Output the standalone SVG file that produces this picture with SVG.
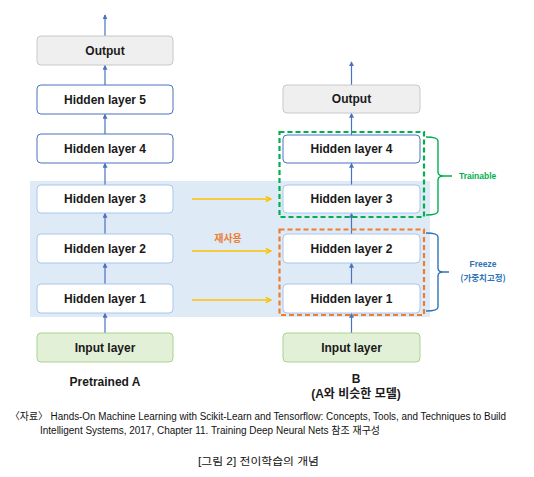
<svg xmlns="http://www.w3.org/2000/svg" width="534" height="477" viewBox="0 0 534 477">
<defs>
<style>
.lbl{font-family:"Liberation Sans","Noto Sans CJK KR",sans-serif;font-weight:bold;font-size:12px;fill:#1a1a1a;text-anchor:middle;dominant-baseline:central}
.hd{fill:#ffffff;stroke:#4a72c0;stroke-width:1}
.hl{fill:#ffffff;stroke:#a8c6ea;stroke-width:1}
.out{fill:#efefef;stroke:#c8c8c8;stroke-width:1}
.inp{fill:#e3f0d8;stroke:#a9d38c;stroke-width:1}
.ar{stroke:#4a72c0;stroke-width:1.2;fill:none;marker-end:url(#ah)}
.ya{stroke:#ffc000;stroke-width:1.6;fill:none;marker-end:url(#yh)}
.cap{font-family:"Liberation Sans","Noto Sans CJK KR",sans-serif;font-size:10px;fill:#111}
.kr{font-family:"Noto Sans CJK KR","Liberation Sans",sans-serif;font-weight:bold}
</style>
<marker id="ah" viewBox="0 0 6 6" refX="5" refY="3" markerWidth="5" markerHeight="5" markerUnits="userSpaceOnUse" orient="auto"><path d="M0,0 L6,3 L0,6 Z" fill="#4a72c0"/></marker>
<marker id="yh" viewBox="0 0 8 8" refX="7" refY="4" markerWidth="7" markerHeight="7" markerUnits="userSpaceOnUse" orient="auto"><path d="M1,1 L7,4 L1,7" fill="none" stroke="#ffc000" stroke-width="1.6"/></marker>
</defs>
<rect width="534" height="477" fill="#ffffff"/>
<rect x="30" y="181" width="400" height="136" fill="#deeaf6"/>

<g id="connectors">
<line class="ar" x1="105" y1="333" x2="105" y2="313.5"/>
<line class="ar" x1="105" y1="284" x2="105" y2="263.5"/>
<line class="ar" x1="105" y1="234" x2="105" y2="213.5"/>
<line class="ar" x1="105" y1="185" x2="105" y2="163.5"/>
<line class="ar" x1="105" y1="134" x2="105" y2="114.5"/>
<line class="ar" x1="105" y1="85" x2="105" y2="65.5"/>
<line class="ar" x1="105" y1="36" x2="105" y2="15"/>
<line class="ar" x1="351.5" y1="333" x2="351.5" y2="313.5"/>
<line class="ar" x1="351.5" y1="284" x2="351.5" y2="263.5"/>
<line class="ar" x1="351.5" y1="234" x2="351.5" y2="213.5"/>
<line class="ar" x1="351.5" y1="185" x2="351.5" y2="163.5"/>
<line class="ar" x1="351.5" y1="135" x2="351.5" y2="113.5"/>
<line class="ar" x1="351.5" y1="85" x2="351.5" y2="62"/>
<line class="ya" x1="192" y1="199" x2="271" y2="199"/>
<line class="ya" x1="192" y1="251" x2="271" y2="251"/>
<line class="ya" x1="192" y1="300" x2="271" y2="300"/>
</g>

<g id="a-output"><rect class="out" x="37" y="36" width="136" height="29" rx="4"/><text class="lbl" x="105" y="50.5">Output</text></g>
<g id="a-h5"><rect class="hd" x="37" y="85" width="136" height="29" rx="4"/><text class="lbl" x="105" y="99.5">Hidden layer 5</text></g>
<g id="a-h4"><rect class="hd" x="37" y="134" width="136" height="29" rx="4"/><text class="lbl" x="105" y="148.5">Hidden layer 4</text></g>
<g id="a-h3"><rect class="hl" x="37" y="185" width="136" height="28" rx="4"/><text class="lbl" x="105" y="199">Hidden layer 3</text></g>
<g id="a-h2"><rect class="hl" x="37" y="234" width="136" height="29" rx="4"/><text class="lbl" x="105" y="248.5">Hidden layer 2</text></g>
<g id="a-h1"><rect class="hl" x="37" y="284" width="136" height="29" rx="4"/><text class="lbl" x="105" y="298.5">Hidden layer 1</text></g>
<g id="a-input"><rect class="inp" x="37" y="333" width="136" height="29" rx="4"/><text class="lbl" x="105" y="347.5">Input layer</text></g>

<g id="b-output"><rect class="out" x="283" y="85" width="137" height="28" rx="4"/><text class="lbl" x="351.5" y="99">Output</text></g>
<g id="b-h4"><rect class="hd" x="283" y="135" width="137" height="28" rx="4"/><text class="lbl" x="351.5" y="149">Hidden layer 4</text></g>
<g id="b-h3"><rect class="hl" x="283" y="185" width="137" height="28" rx="4"/><text class="lbl" x="351.5" y="199">Hidden layer 3</text></g>
<g id="b-h2"><rect class="hl" x="283" y="234" width="137" height="29" rx="4"/><text class="lbl" x="351.5" y="248.5">Hidden layer 2</text></g>
<g id="b-h1"><rect class="hl" x="283" y="284" width="137" height="29" rx="4"/><text class="lbl" x="351.5" y="298.5">Hidden layer 1</text></g>
<g id="b-input"><rect class="inp" x="283" y="333" width="137" height="29" rx="4"/><text class="lbl" x="351.5" y="347.5">Input layer</text></g>

<g id="trainable">
<rect x="279.5" y="132" width="144.5" height="85" fill="none" stroke="#00b050" stroke-width="2.2" stroke-dasharray="5,3"/>
<path d="M426,137 Q438,137 438,141 L438,172 Q438,176 444,176 L452,176 M444,176 Q438,176 438,180 L438,211 Q438,215 426,215" fill="none" stroke="#00b050" stroke-width="1.4"/>
<text x="459" y="176" font-family="'Liberation Sans',sans-serif" font-weight="bold" font-size="8.5px" fill="#00b050" dominant-baseline="central">Trainable</text>
</g>

<g id="freeze">
<rect x="279.5" y="229.5" width="144.5" height="85.5" fill="none" stroke="#ed7d31" stroke-width="2.2" stroke-dasharray="5,3"/>
<path d="M426,233 Q438,233 438,237 L438,268 Q438,272 443,272 L449,272 M443,272 Q438,272 438,276 L438,307 Q438,311 426,311" fill="none" stroke="#2e75b6" stroke-width="1.4"/>
<text x="483" y="264" text-anchor="middle" font-family="'Liberation Sans',sans-serif" font-weight="bold" font-size="8.5px" fill="#2e75b6" dominant-baseline="central">Freeze</text>
<text x="483" y="277" text-anchor="middle" font-family="'Noto Sans CJK KR','Liberation Sans',sans-serif" font-weight="bold" font-size="8.5px" fill="#2e75b6" dominant-baseline="central">(가중치고정)</text>
</g>

<text x="228" y="237" text-anchor="middle" class="kr" font-size="10px" fill="#ed7d31" dominant-baseline="central">재사용</text>

<text class="lbl" x="105" y="382">Pretrained A</text>
<text class="lbl" x="356" y="379">B</text>
<text class="lbl" x="356" y="394" font-family="'Noto Sans CJK KR','Liberation Sans',sans-serif">(A와 비슷한 모델)</text>

<text class="cap" x="10" y="420" textLength="496" lengthAdjust="spacingAndGlyphs">〈자료〉 Hands-On Machine Learning with Scikit-Learn and Tensorflow: Concepts, Tools, and Techniques to Build</text>
<text class="cap" x="40" y="434" textLength="340" lengthAdjust="spacingAndGlyphs">Intelligent Systems, 2017, Chapter 11. Training Deep Neural Nets 참조 재구성</text>
<text class="cap" x="198" y="465" font-size="10.5px" textLength="121" lengthAdjust="spacingAndGlyphs">[그림 2] 전이학습의 개념</text>
</svg>
